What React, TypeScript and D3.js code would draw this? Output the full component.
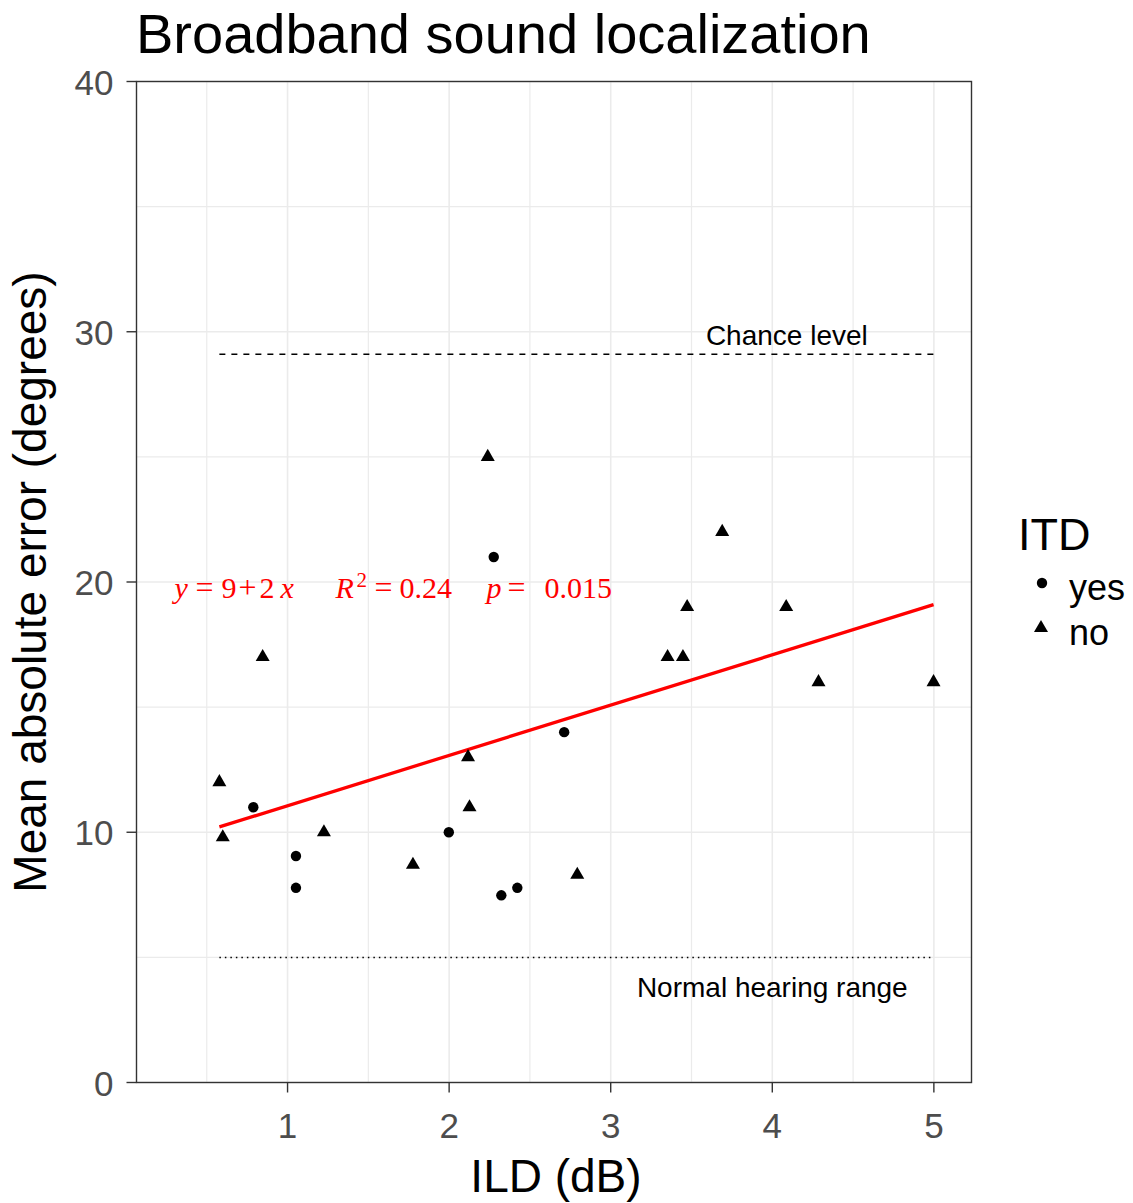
import React from "react";
import * as d3 from "d3";

// ---- data ----
const yesX = [0.788, 1.052, 1.052, 1.998, 2.276, 2.323, 2.422, 2.712];
const yesY = [11.0, 9.05, 7.78, 10.0, 21.0, 7.48, 7.78, 14.0];
const noX = [0.578, 0.599, 0.846, 1.225, 1.776, 2.117, 2.126, 2.239, 2.793, 3.352, 3.447, 3.473, 3.69, 4.086, 4.286, 4.998];
const noY = [12.0, 9.8, 17.0, 10.0, 8.7, 13.0, 11.0, 25.0, 8.3, 17.0, 17.0, 19.0, 22.0, 19.0, 16.0, 16.0];
const fitIntercept = 9.05;
const fitSlope = 2.01;
const chanceLevel = 29.1;
const normalLevel = 5;
const xTicks = [1, 2, 3, 4, 5];
const xMinor = [0.5, 1.5, 2.5, 3.5, 4.5];
const yTicks = [0, 10, 20, 30, 40];
const yMinor = [5, 15, 25, 35];
const legendLabels = ["yes", "no"];
const labelX = 0.3;

const W = 1133;
const H = 1203;
const L = 136.5, R = 971.5, T = 81.5, B = 1082.5;
const SANS = "'Liberation Sans', Arial, sans-serif";
const SERIF = "'Liberation Serif', 'Times New Roman', serif";

const allX = [...yesX, ...noX, labelX];
const xmin = d3.min(allX)!, xmax = d3.max(allX)!;
const pad = (xmax - xmin) * 0.05;
const x = d3.scaleLinear().domain([xmin - pad, xmax + pad]).range([L, R]);
const y = d3.scaleLinear().domain([0, 40]).range([B, T]);

const PR = 5.2;
function triPath(cx: number, cy: number, r: number) {
  return `M${cx},${cy - 1.555 * r}L${cx + 1.347 * r},${cy + 0.778 * r}L${cx - 1.347 * r},${cy + 0.778 * r}Z`;
}

export default function App() {
  const dataX = [...yesX, ...noX];
  const x0 = d3.min(dataX)!, x1 = d3.max(dataX)!;
  const fitLine = d3.line<number>().x((d) => x(d)).y((d) => y(fitIntercept + fitSlope * d));
  const lx = x(labelX);
  const ly = y(19.36);
  return (
    <svg width={W} height={H} style={{ position: "absolute", left: 0, top: 0, background: "#fff" }}>
      <rect x={0} y={0} width={W} height={H} fill="#fff" />
      {/* grid */}
      {xMinor.map((v) => (
        <line key={"xm" + v} x1={x(v)} x2={x(v)} y1={T} y2={B} stroke="#EBEBEB" strokeWidth={1.2} />
      ))}
      {yMinor.map((v) => (
        <line key={"ym" + v} x1={L} x2={R} y1={y(v)} y2={y(v)} stroke="#EBEBEB" strokeWidth={1.2} />
      ))}
      {xTicks.map((v) => (
        <line key={"xg" + v} x1={x(v)} x2={x(v)} y1={T} y2={B} stroke="#EBEBEB" strokeWidth={1.6} />
      ))}
      {yTicks.map((v) => (
        <line key={"yg" + v} x1={L} x2={R} y1={y(v)} y2={y(v)} stroke="#EBEBEB" strokeWidth={1.6} />
      ))}
      {/* reference lines */}
      <line x1={x(x0)} x2={x(x1)} y1={y(chanceLevel)} y2={y(chanceLevel)} stroke="#000" strokeWidth={1.5} strokeDasharray="6,6" />
      <line x1={x(x0)} x2={x(x1)} y1={y(normalLevel)} y2={y(normalLevel)} stroke="#000" strokeWidth={1.5} strokeDasharray="1.5,4" />
      <text x={x(4.09)} y={y(chanceLevel) - 9} fontFamily={SANS} fontSize={28} textAnchor="middle" fill="#000">Chance level</text>
      <text x={x(4.0)} y={y(normalLevel) + 40} fontFamily={SANS} fontSize={28} textAnchor="middle" fill="#000">Normal hearing range</text>
      {/* fit */}
      <path d={fitLine([x0, x1]) || ""} fill="none" stroke="#FF0000" strokeWidth={3.3} />
      {/* points */}
      {yesX.map((v, i) => (
        <circle key={"c" + i} cx={x(v)} cy={y(yesY[i])} r={PR} fill="#000" />
      ))}
      {noX.map((v, i) => (
        <path key={"t" + i} d={triPath(x(v), y(noY[i]), PR)} fill="#000" />
      ))}
      {/* equation label */}
      <g fontFamily={SERIF} fontSize={30} fill="#FF0000">
        <text x={lx} y={ly} fontStyle="italic">y</text>
        <text x={lx + 21} y={ly} fontSize={32}>=</text>
        <text x={lx + 47} y={ly}>9</text>
        <text x={lx + 64} y={ly} fontSize={32}>+</text>
        <text x={lx + 85} y={ly}>2</text>
        <text x={lx + 106} y={ly} fontStyle="italic">x</text>
        <text x={lx + 161} y={ly} fontStyle="italic">R</text>
        <text x={lx + 182} y={ly - 11} fontSize={21}>2</text>
        <text x={lx + 200} y={ly} fontSize={32}>=</text>
        <text x={lx + 225} y={ly}>0.24</text>
        <text x={lx + 312} y={ly} fontStyle="italic">p</text>
        <text x={lx + 333} y={ly} fontSize={32}>=</text>
        <text x={lx + 370} y={ly}>0.015</text>
      </g>
      {/* panel border */}
      <rect x={L} y={T} width={R - L} height={B - T} fill="none" stroke="#333" strokeWidth={1.4} />
      {/* axes ticks */}
      {xTicks.map((v) => (
        <g key={"xt" + v}>
          <line x1={x(v)} x2={x(v)} y1={B} y2={B + 10} stroke="#333" strokeWidth={1.4} />
          <text x={x(v)} y={B + 55} fontFamily={SANS} fontSize={35} textAnchor="middle" fill="#4D4D4D">{v}</text>
        </g>
      ))}
      {yTicks.map((v) => (
        <g key={"yt" + v}>
          <line x1={L - 10} x2={L} y1={y(v)} y2={y(v)} stroke="#333" strokeWidth={1.4} />
          <text x={L - 23} y={y(v) + 13} fontFamily={SANS} fontSize={35} textAnchor="end" fill="#4D4D4D">{v}</text>
        </g>
      ))}
      {/* titles */}
      <text x={136} y={53} fontFamily={SANS} fontSize={56} fill="#000">Broadband sound localization</text>
      <text x={(L + R) / 2 + 2} y={1192} fontFamily={SANS} fontSize={46} textAnchor="middle" fill="#000">ILD (dB)</text>
      <text transform={`translate(46,${(T + B) / 2}) rotate(-90)`} fontFamily={SANS} fontSize={46} textAnchor="middle" fill="#000">Mean absolute error (degrees)</text>
      {/* legend */}
      <text x={1018} y={550} fontFamily={SANS} fontSize={45} fill="#000">ITD</text>
      <circle cx={1042} cy={583} r={PR} fill="#000" />
      <path d={triPath(1041, 628, PR)} fill="#000" />
      {legendLabels.map((s, i) => (
        <text key={s} x={1069} y={600 + i * 45} fontFamily={SANS} fontSize={36} fill="#000">{s}</text>
      ))}
    </svg>
  );
}
